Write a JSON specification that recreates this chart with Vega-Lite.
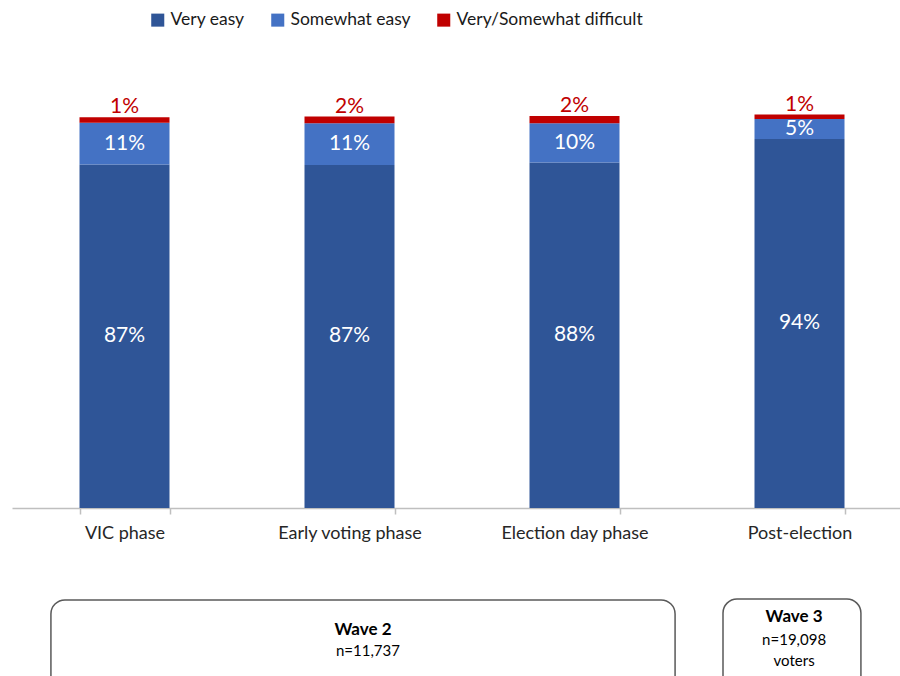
{
  "$schema": "https://vega.github.io/schema/vega-lite/v6.json",
  "width": 888,
  "height": 393,
  "autosize": {"type": "none"},
  "padding": {"left": 12, "top": 115, "right": 0, "bottom": 168},
  "background": "white",
  "config": {"view": {"stroke": null}, "font": "Lato"},
  "layer": [
    {
      "data": {"values": [
        {"phase": "VIC phase", "cat": "Very easy", "ord": 1, "value": 0.874},
        {"phase": "VIC phase", "cat": "Somewhat easy", "ord": 2, "value": 0.106},
        {"phase": "VIC phase", "cat": "Very/Somewhat difficult", "ord": 3, "value": 0.014},
        {"phase": "Early voting phase", "cat": "Very easy", "ord": 1, "value": 0.873},
        {"phase": "Early voting phase", "cat": "Somewhat easy", "ord": 2, "value": 0.106},
        {"phase": "Early voting phase", "cat": "Very/Somewhat difficult", "ord": 3, "value": 0.017},
        {"phase": "Election day phase", "cat": "Very easy", "ord": 1, "value": 0.879},
        {"phase": "Election day phase", "cat": "Somewhat easy", "ord": 2, "value": 0.1},
        {"phase": "Election day phase", "cat": "Very/Somewhat difficult", "ord": 3, "value": 0.0186},
        {"phase": "Post-election", "cat": "Very easy", "ord": 1, "value": 0.939},
        {"phase": "Post-election", "cat": "Somewhat easy", "ord": 2, "value": 0.051},
        {"phase": "Post-election", "cat": "Very/Somewhat difficult", "ord": 3, "value": 0.011}
      ]},
      "transform": [
        {"stack": "value", "groupby": ["phase"], "sort": [{"field": "ord", "order": "ascending"}], "as": ["v0", "v1"]},
        {"calculate": "(datum.v0 + datum.v1) / 2", "as": "vmid"}
      ],
      "encoding": {
        "x": {
          "field": "phase", "type": "nominal",
          "sort": ["VIC phase", "Early voting phase", "Election day phase", "Post-election"],
          "scale": {"range": [0, 900], "paddingInner": 0.6, "paddingOuter": 0.3},
          "axis": {
            "title": null, "labelFontSize": 18, "labelColor": "#262626", "labelAngle": 0,
            "labelPadding": 10, "tickBand": "extent", "tickSize": 6, "tickColor": "#BFBFBF",
            "tickWidth": 1.5, "domainColor": "#BFBFBF", "domainWidth": 1.5, "labelFont": "Lato"
          }
        }
      },
      "layer": [
        {
          "mark": {"type": "bar"},
          "encoding": {
            "y": {"field": "v0", "type": "quantitative", "scale": {"domain": [0, 1], "nice": false, "zero": false}, "axis": null},
            "y2": {"field": "v1"},
            "color": {
              "field": "cat", "type": "nominal",
              "scale": {"domain": ["Very easy", "Somewhat easy", "Very/Somewhat difficult"], "range": ["#2F5597", "#4472C4", "#C00000"]},
              "legend": {
                "orient": "none", "legendX": 137, "legendY": -104, "direction": "horizontal",
                "title": null, "symbolType": "square", "symbolSize": 170, "symbolStrokeWidth": 0,
                "labelFontSize": 17.5, "labelColor": "#1a1a1a", "columnPadding": 24, "labelOffset": 4,
                "labelFont": "Lato", "labelLimit": 400
              }
            }
          }
        },
        {
          "transform": [{"filter": "datum.ord < 3"}],
          "mark": {"type": "text", "color": "white", "fontSize": 21, "baseline": "middle"},
          "encoding": {
            "y": {"field": "vmid", "type": "quantitative"},
            "text": {"field": "value", "type": "quantitative", "format": ".0%"}
          }
        },
        {
          "transform": [{"filter": "datum.ord == 3"}],
          "mark": {"type": "text", "color": "#C00000", "fontSize": 21, "baseline": "alphabetic", "dy": -4},
          "encoding": {
            "y": {"field": "v1", "type": "quantitative"},
            "text": {"field": "value", "type": "quantitative", "format": ".0%"}
          }
        }
      ]
    },
    {
      "data": {"values": [
        {"wave": "Wave 2", "n": "n=11,737", "extra": ""},
        {"wave": "Wave 3", "n": "n=19,098", "extra": "voters"}
      ]},
      "layer": [
        {
          "transform": [{"filter": "datum.wave == 'Wave 2'"}],
          "mark": {"type": "rect", "cornerRadius": 14, "fill": "white", "fillOpacity": 0, "stroke": "#595959", "strokeWidth": 1.5},
          "encoding": {
            "x": {"datum": 0.173, "type": "quantitative", "scale": {"domain": [0, 4], "range": [0, 900], "zero": false, "nice": false}, "axis": null},
            "x2": {"datum": 2.947},
            "y": {"datum": -0.234, "type": "quantitative", "scale": {"domain": [0, 1], "nice": false, "zero": false}, "axis": null},
            "y2": {"datum": -0.5}
          }
        },
        {
          "transform": [{"filter": "datum.wave == 'Wave 3'"}],
          "mark": {"type": "rect", "cornerRadius": 14, "fill": "white", "fillOpacity": 0, "stroke": "#595959", "strokeWidth": 1.5},
          "encoding": {
            "x": {"datum": 3.16, "type": "quantitative"},
            "x2": {"datum": 3.773},
            "y": {"datum": -0.2316, "type": "quantitative"},
            "y2": {"datum": -0.5}
          }
        },
        {
          "transform": [{"filter": "datum.wave == 'Wave 2'"}],
          "mark": {"type": "text", "fontSize": 17, "fontWeight": "bold", "color": "#000000", "baseline": "middle"},
          "encoding": {
            "x": {"datum": 1.56, "type": "quantitative"},
            "y": {"datum": -0.31, "type": "quantitative"},
            "text": {"field": "wave"}
          }
        },
        {
          "transform": [{"filter": "datum.wave == 'Wave 2'"}],
          "mark": {"type": "text", "fontSize": 15, "color": "#000000", "baseline": "middle"},
          "encoding": {
            "x": {"datum": 1.582, "type": "quantitative"},
            "y": {"datum": -0.364, "type": "quantitative"},
            "text": {"field": "n"}
          }
        },
        {
          "transform": [{"filter": "datum.wave == 'Wave 3'"}],
          "mark": {"type": "text", "fontSize": 17, "fontWeight": "bold", "color": "#000000", "baseline": "middle"},
          "encoding": {
            "x": {"datum": 3.476, "type": "quantitative"},
            "y": {"datum": -0.277, "type": "quantitative"},
            "text": {"field": "wave"}
          }
        },
        {
          "transform": [{"filter": "datum.wave == 'Wave 3'"}],
          "mark": {"type": "text", "fontSize": 15, "color": "#000000", "baseline": "middle"},
          "encoding": {
            "x": {"datum": 3.476, "type": "quantitative"},
            "y": {"datum": -0.336, "type": "quantitative"},
            "text": {"field": "n"}
          }
        },
        {
          "transform": [{"filter": "datum.wave == 'Wave 3'"}],
          "mark": {"type": "text", "fontSize": 15, "color": "#000000", "baseline": "middle"},
          "encoding": {
            "x": {"datum": 3.476, "type": "quantitative"},
            "y": {"datum": -0.389, "type": "quantitative"},
            "text": {"field": "extra"}
          }
        }
      ]
    }
  ],
  "resolve": {"scale": {"x": "independent", "y": "independent"}}
}
